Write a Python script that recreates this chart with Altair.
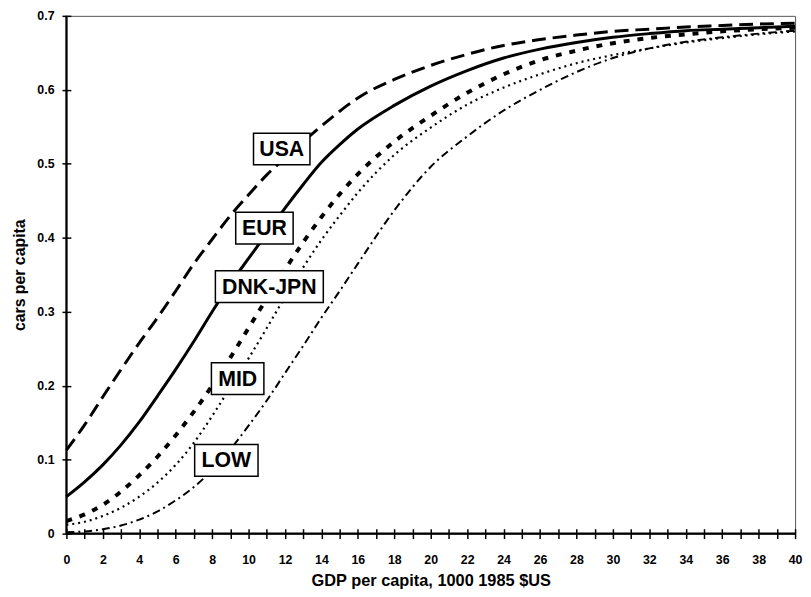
import altair as alt
import pandas as pd

# GDP per capita (1000 1985 $US)
gdp = [0, 1, 2, 3, 4, 5, 6, 7, 8, 9, 10, 11, 12, 13, 14, 15, 16,
       18, 20, 22, 24, 26, 28, 30, 32, 34, 36, 38, 40]

usa = [0.113, 0.147, 0.185, 0.222, 0.258, 0.292, 0.328, 0.365, 0.398, 0.43, 0.458, 0.485,
       0.508, 0.53, 0.551, 0.571, 0.589, 0.614, 0.633, 0.648, 0.66, 0.668, 0.674, 0.679,
       0.682, 0.685, 0.687, 0.689, 0.69]
eur = [0.05, 0.07, 0.093, 0.12, 0.151, 0.186, 0.222, 0.26, 0.3, 0.338, 0.372, 0.406,
       0.44, 0.472, 0.502, 0.526, 0.547, 0.579, 0.605, 0.626, 0.643, 0.655, 0.664, 0.671,
       0.676, 0.68, 0.682, 0.684, 0.686]
dnk_jpn = [0.017, 0.026, 0.039, 0.057, 0.079, 0.104, 0.133, 0.165, 0.2, 0.238, 0.278, 0.318,
           0.357, 0.394, 0.428, 0.459, 0.486, 0.53, 0.565, 0.596, 0.621, 0.64, 0.653, 0.663,
           0.67, 0.675, 0.679, 0.682, 0.684]
mid = [0.012, 0.016, 0.024, 0.035, 0.05, 0.069, 0.093, 0.123, 0.159, 0.198, 0.237, 0.278,
       0.32, 0.36, 0.397, 0.43, 0.461, 0.512, 0.549, 0.58, 0.603, 0.621, 0.636, 0.647,
       0.656, 0.664, 0.67, 0.675, 0.679]
low = [0.002, 0.003, 0.006, 0.011, 0.019, 0.03, 0.045, 0.063, 0.086, 0.114, 0.146, 0.18,
       0.217, 0.254, 0.292, 0.328, 0.365, 0.437, 0.496, 0.537, 0.572, 0.6, 0.624, 0.643,
       0.656, 0.665, 0.671, 0.676, 0.68]

# label annotations (data coordinates)
label_text = ["USA", "EUR", "DNK-JPN", "MID", "LOW"]
label_x = [11.82, 10.87, 11.14, 9.4, 8.78]
label_y = [0.52, 0.413, 0.334, 0.2095, 0.099]

W, H = 736, 523
FONT = "Liberation Sans"
XT = "GDP per capita, 1000 1985 $US"
YT = "cars per capita"

series = [
    ("USA", usa, dict(strokeWidth=3, strokeDash=[14, 7])),
    ("EUR", eur, dict(strokeWidth=3)),
    ("DNK-JPN", dnk_jpn, dict(strokeWidth=4, strokeDash=[6, 8])),
    ("MID", mid, dict(strokeWidth=2.2, strokeDash=[2, 4])),
    ("LOW", low, dict(strokeWidth=2, strokeDash=[8, 4, 2, 4])),
]

xscale = alt.Scale(domain=[0, 40], nice=False, zero=False)
yscale = alt.Scale(domain=[0, 0.7], nice=False)

xaxis = alt.Axis(
    title=XT,
    values=list(range(41)),
    labelExpr="datum.value % 2 == 0 ? datum.label : ''",
    tickSize=10, offset=-5, domain=False, grid=False,
    tickColor="black", tickWidth=1.5,
    labelFont=FONT, labelFontWeight="bold", labelFontSize=12.5, labelColor="black",
    labelPadding=15, labelFlush=False, labelOverlap=False,
    titleFont=FONT, titleFontWeight="bold", titleFontSize=16.5, titleColor="black",
    titlePadding=7,
)
yaxis = alt.Axis(
    title=YT,
    values=[0, 0.1, 0.2, 0.3, 0.4, 0.5, 0.6, 0.7],
    format=".1~f",
    tickSize=9, offset=-4.5, domain=False, grid=False,
    tickColor="black", tickWidth=1.5,
    labelFont=FONT, labelFontWeight="bold", labelFontSize=12.5, labelColor="black",
    labelPadding=8, labelFlush=False,
    titleFont=FONT, titleFontWeight="bold", titleFontSize=16, titleColor="black",
    titlePadding=9,
)


def X(field="gdp"):
    return alt.X(f"{field}:Q", scale=xscale, axis=xaxis, title=XT)


def Y(field="cars"):
    return alt.Y(f"{field}:Q", scale=yscale, axis=yaxis, title=YT)


layers = []
for name, vals, style in series:
    df = pd.DataFrame({"gdp": gdp, "cars": vals})
    layers.append(
        alt.Chart(df).mark_line(color="black", interpolate="monotone", **style)
        .encode(x=X(), y=Y())
    )

lab_df = pd.DataFrame({"t": label_text, "gdp": label_x, "cars": label_y})
box_w = {"USA": 57, "EUR": 58, "DNK-JPN": 109, "MID": 53, "LOW": 64}
for t in label_text:
    layers.append(
        alt.Chart(lab_df[lab_df.t == t]).mark_rect(
            fill="white", stroke="black", strokeWidth=1.5,
            width=box_w[t], height=32)
        .encode(x=X(), y=Y())
    )
layers.append(
    alt.Chart(lab_df).mark_text(font=FONT, fontWeight="bold", fontSize=21.5,
                                color="black", baseline="middle", dy=1)
    .encode(x=X(), y=Y(), text="t:N")
)

# thick left and bottom frame lines
layers.append(
    alt.Chart(pd.DataFrame({"a": [0]})).mark_rule(color="black", strokeWidth=2.2)
    .encode(x=alt.datum(0, scale=xscale, axis=xaxis, title=XT),
            y=alt.datum(0, scale=yscale, axis=yaxis, title=YT),
            y2=alt.datum(0.7))
)
layers.append(
    alt.Chart(pd.DataFrame({"a": [0]})).mark_rule(color="black", strokeWidth=2.2)
    .encode(x=alt.datum(0, scale=xscale, axis=xaxis, title=XT),
            x2=alt.datum(40),
            y=alt.datum(0, scale=yscale, axis=yaxis, title=YT))
)

chart = alt.layer(*layers).properties(
    width=W, height=H,
    padding={"left": 59, "top": 5, "right": 8, "bottom": 56},
    autosize=alt.AutoSizeParams(type="none"),
    background="white",
).configure_view(stroke="#555", strokeWidth=1)

chart.save("out.html", embed_options={"renderer": "svg", "actions": False})
